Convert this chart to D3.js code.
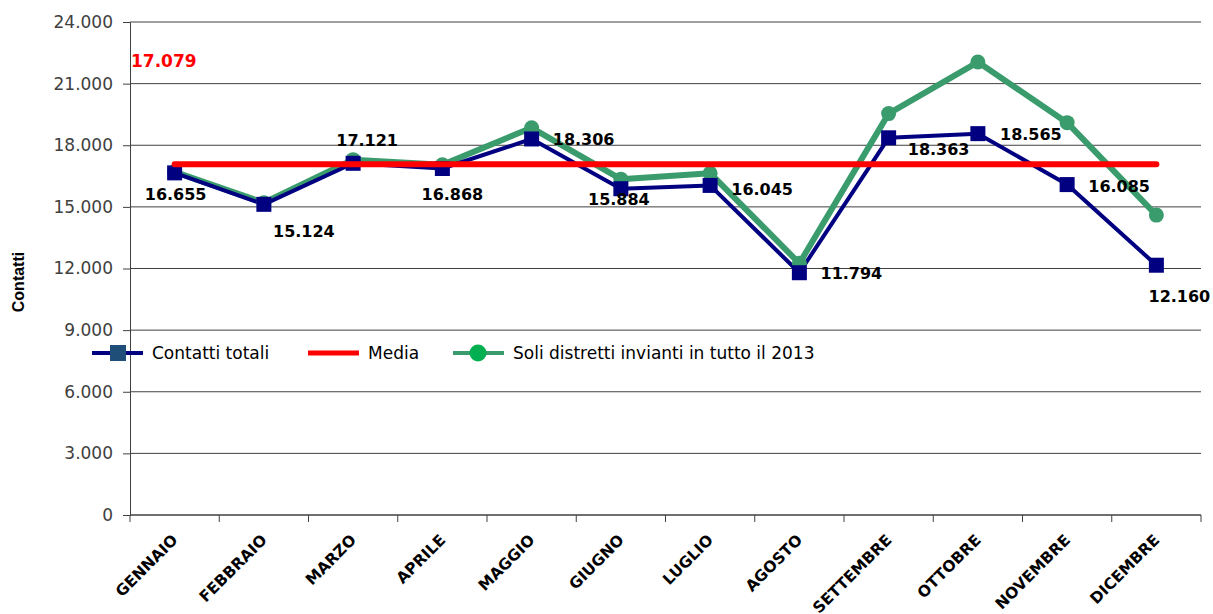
<!DOCTYPE html>
<html>
<head>
<meta charset="utf-8">
<script src="https://cdn.jsdelivr.net/npm/d3@7"></script>
<style>
  body { margin: 0; background: #fff; }
  svg text { font-family: "DejaVu Sans", sans-serif; }
</style>
</head>
<body>
<div id="chart"></div>
<script>
// data
var months = ['GENNAIO', 'FEBBRAIO', 'MARZO', 'APRILE', 'MAGGIO', 'GIUGNO',
              'LUGLIO', 'AGOSTO', 'SETTEMBRE', 'OTTOBRE', 'NOVEMBRE', 'DICEMBRE'];
var contattiTotali = [16655, 15124, 17121, 16868, 18306, 15884, 16045, 11794, 18363, 18565, 16085, 12160];
var soliDistretti = [16700, 15200, 17300, 17050, 18850, 16350, 16640, 12250, 19540, 22050, 19100, 14600];
var media = 17079;
var yTicks = [0, 3000, 6000, 9000, 12000, 15000, 18000, 21000, 24000];
var legendLabels = ['Contatti totali', 'Media', 'Soli distretti invianti in tutto il 2013'];

// where each value label sits relative to its point (dx, dy)
var labelOffsets = [[1, 27], [40, 33], [14, -17], [10, 31], [52, 6], [-2, 16],
                    [52, 10], [52, 6], [50, 17], [53, 6], [52, 7], [23, 37]];

var width = 1213;
var height = 614;
var margin = { top: 22, right: 12, bottom: 99, left: 130 };

var blue = '#000080';
var green = '#3a9c6c';
var red = '#ff0000';

var it = d3.formatLocale({ decimal: ',', thousands: '.', grouping: [3], currency: ['€', ''] });
var fmt = it.format(',d');

var svg = d3.select('#chart').append('svg')
    .attr('width', width)
    .attr('height', height);

var x = d3.scaleBand()
    .domain(months)
    .range([margin.left, width - margin.right])
    .padding(0);

var y = d3.scaleLinear()
    .domain([0, 24000])
    .range([height - margin.bottom, margin.top]);

function cx(d, i) { return x(months[i]) + x.bandwidth() / 2; }

// gridlines
svg.append('g')
    .selectAll('line')
    .data(yTicks.filter(function (d) { return d > 0; }))
    .enter()
    .append('line')
    .attr('x1', margin.left)
    .attr('x2', width - margin.right)
    .attr('y1', function (d) { return y(d); })
    .attr('y2', function (d) { return y(d); })
    .attr('stroke', '#404040')
    .attr('stroke-width', 1);

// y axis
var yAxis = svg.append('g')
    .attr('transform', 'translate(' + margin.left + ',0)')
    .call(d3.axisLeft(y).tickValues(yTicks).tickFormat(function (d) { return d === 0 ? '0' : fmt(d); }).tickSize(7).tickPadding(10));
yAxis.select('.domain').attr('stroke', '#404040');
yAxis.selectAll('.tick line').attr('stroke', '#404040');
yAxis.selectAll('text')
    .attr('fill', '#404040')
    .style('font-size', '17px')
    .style('font-family', '"DejaVu Sans", sans-serif');

// x axis with ticks at category boundaries
var xAxis = svg.append('g')
    .attr('transform', 'translate(0,' + y(0) + ')');
xAxis.append('line')
    .attr('x1', margin.left)
    .attr('x2', width - margin.right)
    .attr('stroke', '#404040')
    .attr('stroke-width', 1.5);
xAxis.selectAll('line.tick')
    .data(d3.range(months.length + 1))
    .enter()
    .append('line')
    .attr('class', 'tick')
    .attr('x1', function (i) { return margin.left + i * x.bandwidth(); })
    .attr('x2', function (i) { return margin.left + i * x.bandwidth(); })
    .attr('y1', 0)
    .attr('y2', 7)
    .attr('stroke', '#404040');
xAxis.selectAll('text')
    .data(months)
    .enter()
    .append('text')
    .attr('transform', function (d) {
        return 'translate(' + (x(d) + x.bandwidth() / 2 + 4) + ',26) rotate(-45)';
    })
    .attr('text-anchor', 'end')
    .attr('font-weight', 'bold')
    .attr('font-size', '15.5px')
    .attr('fill', '#000')
    .text(function (d) { return d; });

// y axis title
svg.append('text')
    .attr('transform', 'translate(24,' + 282 + ') rotate(-90)')
    .attr('text-anchor', 'middle')
    .style('font-family', '"Liberation Sans", sans-serif')
    .style('font-weight', 'bold')
    .style('font-size', '16px')
    .text('Contatti');

// lines
var line = d3.line()
    .x(cx)
    .y(function (d) { return y(d); });

svg.append('path')
    .datum(soliDistretti)
    .attr('d', line)
    .attr('fill', 'none')
    .attr('stroke', green)
    .attr('stroke-width', 6)
    .attr('stroke-linejoin', 'round');

svg.append('path')
    .datum(contattiTotali)
    .attr('d', line)
    .attr('fill', 'none')
    .attr('stroke', blue)
    .attr('stroke-width', 4)
    .attr('stroke-linejoin', 'round');

svg.selectAll('circle.green')
    .data(soliDistretti)
    .enter()
    .append('circle')
    .attr('class', 'green')
    .attr('cx', cx)
    .attr('cy', function (d) { return y(d); })
    .attr('r', 7.5)
    .attr('fill', green);

svg.selectAll('rect.blue')
    .data(contattiTotali)
    .enter()
    .append('rect')
    .attr('class', 'blue')
    .attr('x', function (d, i) { return cx(d, i) - 7.5; })
    .attr('y', function (d) { return y(d) - 7.5; })
    .attr('width', 15)
    .attr('height', 15)
    .attr('fill', blue);

// media line
svg.append('line')
    .attr('x1', x(months[0]) + x.bandwidth() / 2)
    .attr('x2', x(months[months.length - 1]) + x.bandwidth() / 2)
    .attr('y1', y(media))
    .attr('y2', y(media))
    .attr('stroke', red)
    .attr('stroke-width', 6)
    .attr('stroke-linecap', 'round');

svg.append('text')
    .attr('x', margin.left + 1)
    .attr('y', 67)
    .attr('fill', red)
    .attr('font-weight', 'bold')
    .attr('font-size', '17px')
    .text(fmt(media));

// value labels
svg.selectAll('text.value')
    .data(contattiTotali)
    .enter()
    .append('text')
    .attr('class', 'value')
    .attr('x', function (d, i) { return cx(d, i) + labelOffsets[i][0]; })
    .attr('y', function (d, i) { return y(d) + labelOffsets[i][1]; })
    .attr('text-anchor', 'middle')
    .attr('font-weight', 'bold')
    .attr('font-size', '16px')
    .attr('fill', '#000')
    .text(function (d) { return fmt(d); });

// legend
var legend = svg.append('g').attr('transform', 'translate(0,353)');
var legendX = [92, 308, 453];
legendLabels.forEach(function (label, i) {
    var g = legend.append('g').attr('transform', 'translate(' + legendX[i] + ',0)');
    var color = [blue, red, green][i];
    g.append('line')
        .attr('x1', 0).attr('x2', 51)
        .attr('stroke', color)
        .attr('stroke-width', i === 1 ? 5 : 4);
    if (i === 0) {
        g.append('rect')
            .attr('x', 18).attr('y', -8).attr('width', 16).attr('height', 16)
            .attr('fill', '#1f4e79');
    } else if (i === 2) {
        g.append('circle')
            .attr('cx', 25).attr('r', 8.5)
            .attr('fill', '#00b050');
    }
    g.append('text')
        .attr('x', 60)
        .attr('y', 6)
        .attr('font-size', '17px')
        .attr('fill', '#000')
        .text(label);
});
</script>
</body>
</html>
